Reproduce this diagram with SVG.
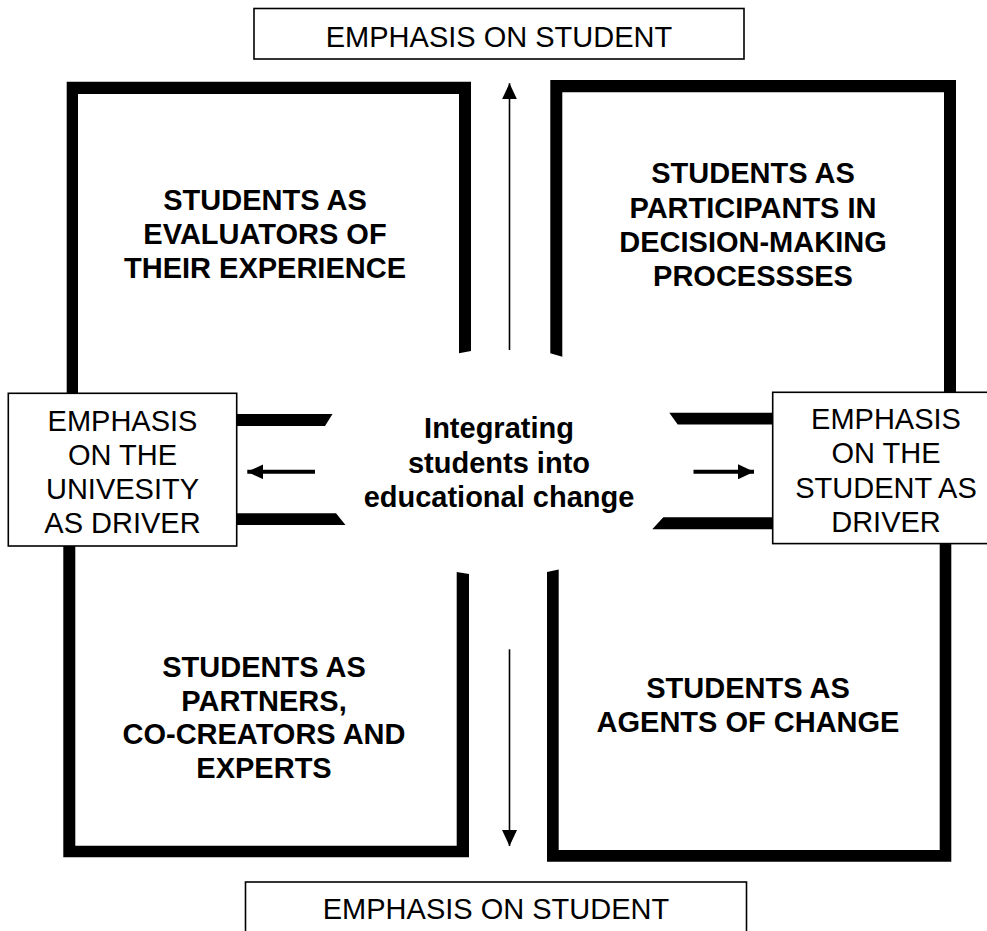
<svg xmlns="http://www.w3.org/2000/svg" width="987" height="931" viewBox="0 0 987 931">
<defs>
<style>
.br{fill:#000;}
.box{fill:#fff;stroke:#000;stroke-width:1.6;}
.t{font-family:"Liberation Sans",Arial,sans-serif;font-size:29px;fill:#000;text-anchor:middle;}
.b{font-family:"Liberation Sans",Arial,sans-serif;font-size:29px;font-weight:bold;fill:#000;text-anchor:middle;}
.thin{stroke:#000;stroke-width:1.6;fill:none;}
.thick{stroke:#000;stroke-width:4;fill:none;}
</style>
<marker id="ah" viewBox="0 0 16 15" refX="16" refY="7.5" markerWidth="16" markerHeight="15" markerUnits="userSpaceOnUse" orient="auto">
<path d="M0,0 L16,7.5 L0,15 Z" fill="#000"/>
</marker>
</defs>
<rect width="987" height="931" fill="#fff"/>

<g id="quad-tl">
<polygon class="br" points="66.7,400 66.7,81.7 471,81.7 471,351 459,353.3 459,94 78,94 78,400"/>
<text class="b" x="265" y="210">STUDENTS AS</text>
<text class="b" x="265" y="244">EVALUATORS OF</text>
<text class="b" x="265" y="278">THEIR EXPERIENCE</text>
</g>

<g id="quad-tr">
<polygon class="br" points="550.3,353.3 550.3,80 956,80 956,400 944,400 944,92.3 562.3,92.3 562.3,356.7"/>
<text class="b" x="753" y="183">STUDENTS AS</text>
<text class="b" x="753" y="218">PARTICIPANTS IN</text>
<text class="b" x="753" y="252">DECISION-MAKING</text>
<text class="b" x="753" y="286">PROCESSSES</text>
</g>

<g id="quad-bl">
<polygon class="br" points="63.3,540 75.3,540 75.3,845.7 456.7,845.7 456.7,572 469,574 469,857.3 63.3,857.3"/>
<text class="b" x="264" y="677">STUDENTS AS</text>
<text class="b" x="264" y="711">PARTNERS,</text>
<text class="b" x="264" y="744">CO-CREATORS AND</text>
<text class="b" x="264" y="778">EXPERTS</text>
</g>

<g id="quad-br">
<polygon class="br" points="547,572 558.7,569.5 558.7,850 939.7,850 939.7,535 951.3,535 951.3,861.7 547,861.7"/>
<text class="b" x="748" y="698">STUDENTS AS</text>
<text class="b" x="748" y="732">AGENTS OF CHANGE</text>
</g>

<g id="connectors">
<polygon class="br" points="236,414 332.5,414 325,426 236,426"/>
<polygon class="br" points="236,513.3 336,513.3 345.5,525 236,525"/>
<polygon class="br" points="669.3,412.7 774,412.7 774,424.5 677.7,424.5"/>
<polygon class="br" points="663.3,517.3 774,517.3 774,529.3 652.3,529.3"/>
<line class="thick" x1="315" y1="471.8" x2="247.3" y2="471.8" marker-end="url(#ah)"/>
<line class="thick" x1="693.5" y1="471.8" x2="754" y2="471.8" marker-end="url(#ah)"/>
<line class="thin" x1="509.5" y1="350" x2="509.5" y2="83.3" marker-end="url(#ah)"/>
<line class="thin" x1="509.5" y1="649.3" x2="509.5" y2="846" marker-end="url(#ah)"/>
</g>

<g id="center">
<text class="b" x="499" y="438">Integrating</text>
<text class="b" x="499" y="472.5">students into</text>
<text class="b" x="499" y="506.5">educational change</text>
</g>

<g id="top-box">
<rect class="box" x="254" y="8.5" width="490" height="50.5"/>
<text class="t" x="499" y="46.7">EMPHASIS ON STUDENT</text>
</g>

<g id="bottom-box">
<rect class="box" x="245.5" y="882" width="501" height="60"/>
<text class="t" x="496" y="919.3">EMPHASIS ON STUDENT</text>
</g>

<g id="left-box">
<rect class="box" x="8.3" y="393.3" width="228.4" height="152.7"/>
<text class="t" x="122.5" y="431">EMPHASIS</text>
<text class="t" x="122.5" y="465">ON THE</text>
<text class="t" x="122.5" y="499.3">UNIVESITY</text>
<text class="t" x="122.5" y="532.7">AS DRIVER</text>
</g>

<g id="right-box">
<rect class="box" x="772.7" y="392.3" width="230" height="151.3"/>
<text class="t" x="886" y="429.3">EMPHASIS</text>
<text class="t" x="886" y="463">ON THE</text>
<text class="t" x="886" y="497.7">STUDENT AS</text>
<text class="t" x="886" y="531.7">DRIVER</text>
</g>
</svg>
